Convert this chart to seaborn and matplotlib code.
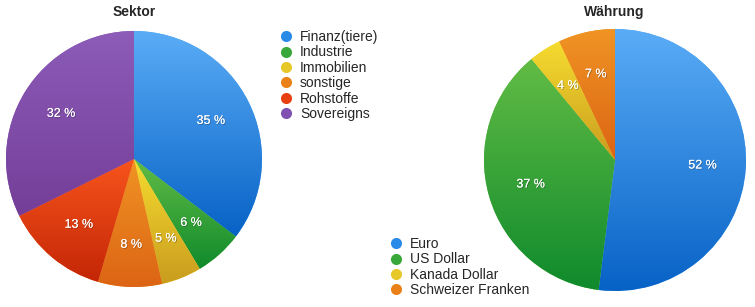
import numpy as np
import matplotlib
matplotlib.use("Agg")
import matplotlib.pyplot as plt
import matplotlib.patheffects as pe
from matplotlib.lines import Line2D
from matplotlib.colors import LinearSegmentedColormap
import seaborn as sns

sns.set_theme(style="white")
plt.rcParams['font.family'] = ['Liberation Sans', 'DejaVu Sans']

# ---- data ----
sektor_labels = ["Finanz(tiere)", "Industrie", "Immobilien", "sonstige", "Rohstoffe", "Sovereigns"]
sektor_values = [35, 6, 5, 8, 13, 32]
waehrung_labels = ["Euro", "US Dollar", "Kanada Dollar", "Schweizer Franken"]
waehrung_values = [52, 37, 4, 7]

# ---- styles (top, bottom colours of gradient) ----
grad = {
    "blue": ("#5aacf6", "#0762c6"),
    "green": ("#62bc45", "#0f8a2c"),
    "yellow": ("#f6dc30", "#c99c1e"),
    "orange": ("#f09424", "#dc6414"),
    "red": ("#f7541c", "#c42606"),
    "purple": ("#8c5cb8", "#743e98"),
}
legend_col = {"blue": "#2a8ae8", "green": "#38a83a", "yellow": "#e6c82a",
              "orange": "#ea8018", "red": "#e84010", "purple": "#8050b0"}
sektor_keys = ["blue", "green", "yellow", "orange", "red", "purple"]
waehrung_keys = ["blue", "green", "yellow", "orange"]

W, H = 755, 307
fig = plt.figure(figsize=(W / 100, H / 100), dpi=100)

label_fx = [pe.withSimplePatchShadow(offset=(0.6, -0.6), shadow_rgbFace="k", alpha=0.35), pe.Normal()]


def draw_pie(cx, cy, r, values, keys):
    ax = fig.add_axes([(cx - r) / W, (H - cy - r) / H, 2 * r / W, 2 * r / H])
    wedges, texts, autotexts = ax.pie(
        values, colors=[grad[k][0] for k in keys], startangle=90, counterclock=False,
        autopct=lambda p: f"{p:.0f} %", pctdistance=0.67, radius=1,
        wedgeprops=dict(linewidth=0), textprops=dict(color="white", fontsize=9))
    for w, k in zip(wedges, keys):
        verts = w.get_path().vertices
        y0, y1 = verts[:, 1].min(), verts[:, 1].max()
        cmap = LinearSegmentedColormap.from_list("g", [grad[k][1], grad[k][0]])
        img = ax.imshow(np.linspace(0, 1, 256).reshape(-1, 1), cmap=cmap, origin="lower",
                        extent=[-1.05, 1.05, y0, y1], aspect="auto", zorder=2)
        img.set_clip_path(w)
    for t in autotexts:
        t.set_path_effects(label_fx)
        t.set_zorder(5)
    ax.set_xlim(-1.0, 1.0)
    ax.set_ylim(-1.0, 1.0)
    ax.set_aspect("equal")
    ax.axis("off")
    return ax


draw_pie(134, 159, 128, sektor_values, sektor_keys)
draw_pie(615, 160, 131, waehrung_values, waehrung_keys)

fig.text(134 / W, 1 - 12 / H, "Sektor", ha="center", va="center", fontsize=10, fontweight="bold")
fig.text(614 / W, 1 - 12 / H, "Währung", ha="center", va="center", fontsize=10, fontweight="bold")


def make_legend(labels, keys, x, y):
    handles = [Line2D([], [], marker="o", linestyle="none", markersize=8,
                      markerfacecolor=legend_col[k], markeredgewidth=0) for k in keys]
    leg = fig.legend(handles, labels, loc="upper left", bbox_to_anchor=(x / W, 1 - y / H),
                     frameon=False, fontsize=10, handlelength=0.8, handletextpad=0.65,
                     labelspacing=0.1, borderpad=0, borderaxespad=0)
    return leg


make_legend(sektor_labels, sektor_keys, 280, 30)
make_legend(waehrung_labels, waehrung_keys, 390, 237)

fig.savefig("out.png", dpi=100)
